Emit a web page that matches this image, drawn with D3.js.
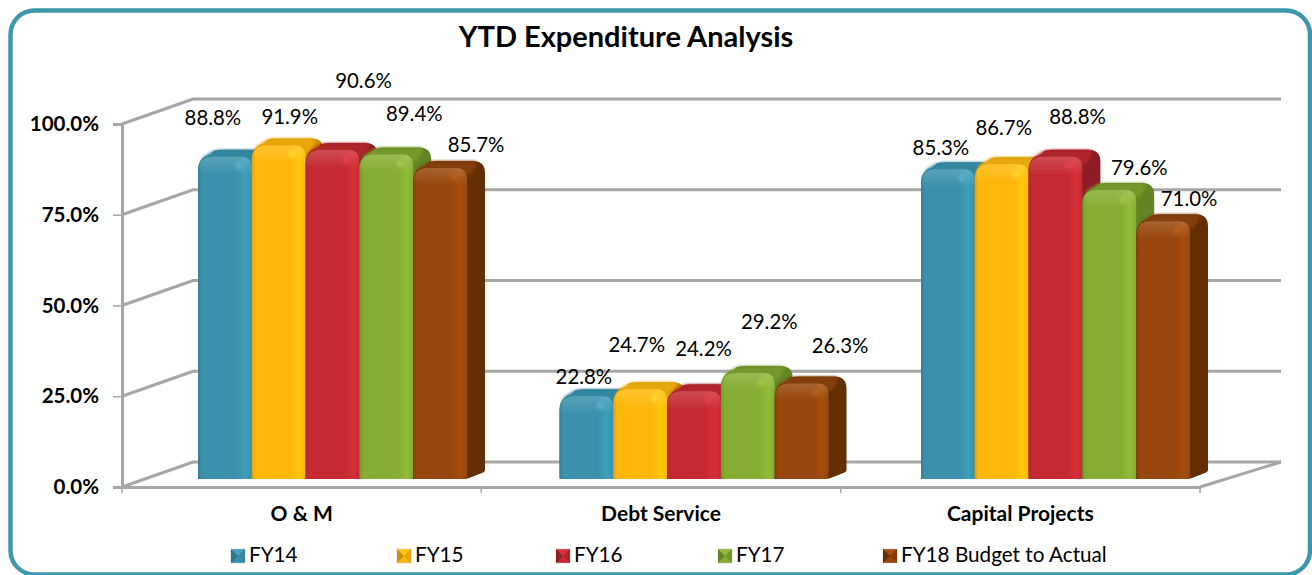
<!DOCTYPE html>
<html>
<head>
<meta charset="utf-8">
<title>YTD Expenditure Analysis</title>
<script src="https://cdn.jsdelivr.net/npm/d3@7"></script>
<style>
  html, body { margin: 0; padding: 0; background: #fff; overflow: hidden; }
  svg { display: block; }
  text { font-family: Lato, "Open Sans", sans-serif; fill: #000; }
</style>
</head>
<body>
<script>
// values, one list per fiscal year
var categories = ["O & M", "Debt Service", "Capital Projects"];
var seriesNames = ["FY14", "FY15", "FY16", "FY17", "FY18 Budget to Actual"];
var fy14 = [0.888, 0.228, 0.853];
var fy15 = [0.919, 0.247, 0.867];
var fy16 = [0.906, 0.242, 0.888];
var fy17 = [0.894, 0.292, 0.796];
var fy18 = [0.857, 0.263, 0.710];
var seriesValues = [fy14, fy15, fy16, fy17, fy18];
var tickValues = [0, 0.25, 0.5, 0.75, 1];

// front, top, side colours for each series
var fronts = ["#3a91ab", "#ffb70a", "#c52b31", "#84ad31", "#97460a"];
var tops = ["#3186a0", "#e8a708", "#b0252b", "#74982b", "#843c07"];
var sides = ["#2c7489", "#c98f06", "#8e1f25", "#628526", "#642f05"];
var shines = ["#5fb3cb", "#ffd633", "#e2444b", "#a3c94a", "#b9601a"];

// the labels were dragged around by hand in the original: shift from bar top, [series][category]
var labelShift = [
  [[-12, -39], [-2.5, -19], [-7, -22]],
  [[11, -29], [-3.5, -44], [2, -36]],
  [[31, -69], [9.5, -42], [22, -40]],
  [[28, -41], [21.5, -51], [30, -22]],
  [[36, -23], [38.5, -38], [26, -22]]
];

var width = 1312,
    height = 575,
    wallDx = 71,
    wallDy = 25,
    barDx = 18,
    barDy = 7,
    floorLift = 8,
    gridColor = "#a6a6a6";

var svg = d3.select("body")
    .append("svg")
    .attr("width", width)
    .attr("height", height);

var defs = svg.append("defs");

var soften = defs.append("filter").attr("id", "soften");
soften.append("feGaussianBlur").attr("stdDeviation", 0.6);

var softer = defs.append("filter").attr("id", "softer");
softer.append("feGaussianBlur").attr("stdDeviation", 1.5);

fronts.forEach(function(c, i) {
  var g = defs.append("linearGradient").attr("id", "front" + i);
  [[0, d3.rgb(c).darker(0.35)], [0.07, c], [0.72, c], [0.88, d3.rgb(c).brighter(0.25)], [1, c]]
    .forEach(function(s) {
      g.append("stop").attr("offset", s[0]).attr("stop-color", s[1]);
    });
});

var capFade = defs.append("linearGradient")
    .attr("id", "capFade")
    .attr("x1", 0).attr("x2", 0).attr("y1", 0).attr("y2", 1);
capFade.append("stop").attr("offset", 0).attr("stop-color", "#fff").attr("stop-opacity", 0.16);
capFade.append("stop").attr("offset", 1).attr("stop-color", "#fff").attr("stop-opacity", 0);

shines.forEach(function(c, i) {
  var g = defs.append("radialGradient").attr("id", "shine" + i);
  g.append("stop").attr("offset", 0).attr("stop-color", c).attr("stop-opacity", 1);
  g.append("stop").attr("offset", 1).attr("stop-color", c).attr("stop-opacity", 0);
});

// frame
svg.append("rect")
    .attr("x", 10.5)
    .attr("y", 10.5)
    .attr("width", 1299.5)
    .attr("height", 564)
    .attr("rx", 24)
    .attr("fill", "#fff")
    .attr("stroke", "#3f97ad")
    .attr("stroke-width", 4.5);

svg.append("text")
    .attr("x", 626)
    .attr("y", 47)
    .attr("text-anchor", "middle")
    .attr("font-weight", "bold")
    .attr("font-size", 29)
    .text("YTD Expenditure Analysis");

var y = d3.scaleLinear().domain([0, 1]).range([487, 124]);
var axisX = d3.scaleBand().domain(categories).range([122, 1200]);
// bars sit a little off the axis bands because of the 3d view
var groupX = d3.scaleBand().domain(categories).range([198, 1282.5]);
var barX = d3.scaleBand().domain(d3.range(seriesNames.length)).range([0, 269]);

// walls and floor
var grid = svg.append("g")
    .attr("fill", "none")
    .attr("stroke", gridColor)
    .attr("stroke-width", 3);

grid.selectAll("path.wall")
  .data(tickValues)
  .enter().append("path")
    .attr("class", "wall")
    .attr("d", function(d) {
      return d3.line()([[122, y(d)], [122 + wallDx, y(d) - wallDy], [1200 + wallDx + 10, y(d) - wallDy]]);
    });

grid.append("path")
    .attr("d", d3.line()([[1200, y(0)], [1200 + wallDx + 10, y(0) - wallDy]]));

// axes
var yAxis = svg.append("g")
    .attr("transform", "translate(122,0)")
    .call(d3.axisLeft(y).tickValues(tickValues).tickFormat(d3.format(".1%")).tickSize(9).tickPadding(14));

yAxis.select(".domain").attr("stroke", gridColor).attr("stroke-width", 3);
yAxis.selectAll(".tick line").attr("stroke", gridColor).attr("stroke-width", 1.5);
yAxis.selectAll(".tick text")
    .attr("font-family", "Lato, sans-serif")
    .attr("font-weight", "bold")
    .attr("font-size", 20.5)
    .attr("fill", "#000");

var xAxis = svg.append("g")
    .attr("transform", "translate(0," + y(0) + ")")
    .call(d3.axisBottom(axisX).tickSize(0).tickPadding(19));

xAxis.select(".domain").attr("stroke", gridColor).attr("stroke-width", 3);
xAxis.selectAll(".tick text")
    .attr("font-family", "Lato, sans-serif")
    .attr("font-weight", "bold")
    .attr("font-size", 21)
    .attr("fill", "#000");

xAxis.selectAll("line.sep")
  .data(d3.range(categories.length + 1))
  .enter().append("line")
    .attr("class", "sep")
    .attr("x1", function(i) { return 122 + i * axisX.step(); })
    .attr("x2", function(i) { return 122 + i * axisX.step(); })
    .attr("y1", 0)
    .attr("y2", 6)
    .attr("stroke", gridColor)
    .attr("stroke-width", 1.5);

// bars
function barTop(v) { return y(v) - floorLift; }

function outlinePath(x, t, w, b) {
  var p = d3.path();
  p.moveTo(x, b);
  p.lineTo(x, t + 13);
  p.quadraticCurveTo(x, t + 1, x + 12, t - 2);
  p.lineTo(x + 16, t - barDy + 1);
  p.quadraticCurveTo(x + 20, t - barDy, x + 24, t - barDy);
  p.lineTo(x + w + barDx - 12, t - barDy);
  p.quadraticCurveTo(x + w + barDx, t - barDy, x + w + barDx, t - barDy + 12);
  p.lineTo(x + w + barDx, b - barDy - 2);
  p.quadraticCurveTo(x + w + barDx, b - barDy, x + w + barDx - 3, b - barDy + 1);
  p.lineTo(x + w + 2, b - 1);
  p.quadraticCurveTo(x + w, b, x + w - 4, b);
  p.closePath();
  return p.toString();
}

function topPath(x, t, w) {
  var p = d3.path();
  p.moveTo(x + 3, t + 3);
  p.quadraticCurveTo(x + 6, t - 1, x + 16, t - barDy + 1);
  p.quadraticCurveTo(x + 20, t - barDy, x + 24, t - barDy);
  p.lineTo(x + w + barDx - 12, t - barDy);
  p.quadraticCurveTo(x + w + barDx - 3, t - barDy, x + w + 2, t + 8);
  p.lineTo(x + w - 4, t + 4);
  p.closePath();
  return p.toString();
}

function frontPath(x, t, w, b) {
  var p = d3.path();
  p.moveTo(x + 3, b);
  p.quadraticCurveTo(x, b, x, b - 3);
  p.lineTo(x, t + 15);
  p.quadraticCurveTo(x, t, x + 15, t);
  p.lineTo(x + w - 11, t);
  p.quadraticCurveTo(x + w, t, x + w, t + 11);
  p.lineTo(x + w, b - 3);
  p.quadraticCurveTo(x + w, b, x + w - 3, b);
  p.closePath();
  return p.toString();
}

function capPath(x, t, w) {
  var p = d3.path();
  p.moveTo(x, t + 18);
  p.lineTo(x, t + 15);
  p.quadraticCurveTo(x, t, x + 15, t);
  p.lineTo(x + w - 11, t);
  p.quadraticCurveTo(x + w, t, x + w, t + 11);
  p.lineTo(x + w, t + 18);
  p.closePath();
  return p.toString();
}

var barData = [];
categories.forEach(function(cat, c) {
  seriesNames.forEach(function(name, s) {
    barData.push({ cat: cat, c: c, s: s, v: seriesValues[s][c] });
  });
});

var bars = svg.append("g")
    .attr("filter", "url(#soften)")
  .selectAll("g")
  .data(barData)
  .enter().append("g");

var w = barX.bandwidth();
function left(d) { return groupX(d.cat) + barX(d.s); }

bars.append("path")
    .attr("d", function(d) { return outlinePath(left(d), barTop(d.v), w, y(0) - floorLift); })
    .attr("fill", function(d) { return sides[d.s]; });

bars.append("path")
    .attr("d", function(d) { return topPath(left(d), barTop(d.v), w); })
    .attr("fill", function(d) { return tops[d.s]; })
    .attr("filter", "url(#softer)");

bars.append("path")
    .attr("d", function(d) { return frontPath(left(d), barTop(d.v), w, y(0) - floorLift); })
    .attr("fill", function(d) { return "url(#front" + d.s + ")"; });

bars.append("path")
    .attr("d", function(d) { return capPath(left(d), barTop(d.v), w); })
    .attr("fill", "url(#capFade)");

bars.append("ellipse")
    .attr("cx", function(d) { return left(d) + w - 13; })
    .attr("cy", function(d) { return barTop(d.v) + 9; })
    .attr("rx", 6)
    .attr("ry", 6)
    .attr("fill", function(d) { return "url(#shine" + d.s + ")"; });

// value labels
svg.append("g")
  .selectAll("text")
  .data(barData)
  .enter().append("text")
    .attr("x", function(d) { return left(d) + w / 2 + labelShift[d.s][d.c][0]; })
    .attr("y", function(d) { return barTop(d.v) + labelShift[d.s][d.c][1]; })
    .attr("dy", "0.35em")
    .attr("text-anchor", "middle")
    .attr("font-size", 20.4)
    .text(function(d) { return d3.format(".1%")(d.v); });

// legend
var legendX = d3.scaleOrdinal().domain(seriesNames).range([231, 397, 556, 718, 883]);

var legend = svg.append("g")
  .selectAll("g")
  .data(seriesNames)
  .enter().append("g")
    .attr("transform", function(d) { return "translate(" + legendX(d) + ",549)"; });

legend.append("rect")
    .attr("width", 14)
    .attr("height", 14)
    .attr("fill", function(d, i) { return fronts[i]; })
    .attr("stroke", "#bbb")
    .attr("stroke-width", 0.5);

legend.append("path")
    .attr("d", "M0,0L7,7L0,14Z")
    .attr("fill", function(d, i) { return sides[i]; });

legend.append("path")
    .attr("d", "M0,0L14,0L7,7Z")
    .attr("fill", function(d, i) { return shines[i]; })
    .attr("fill-opacity", 0.45);

legend.append("path")
    .attr("d", "M14,0L14,14L7,7Z")
    .attr("fill", function(d, i) { return tops[i]; });

legend.append("text")
    .attr("x", 18)
    .attr("y", 6)
    .attr("dy", "0.35em")
    .attr("font-size", 20.7)
    .text(function(d) { return d; });
</script>
</body>
</html>
